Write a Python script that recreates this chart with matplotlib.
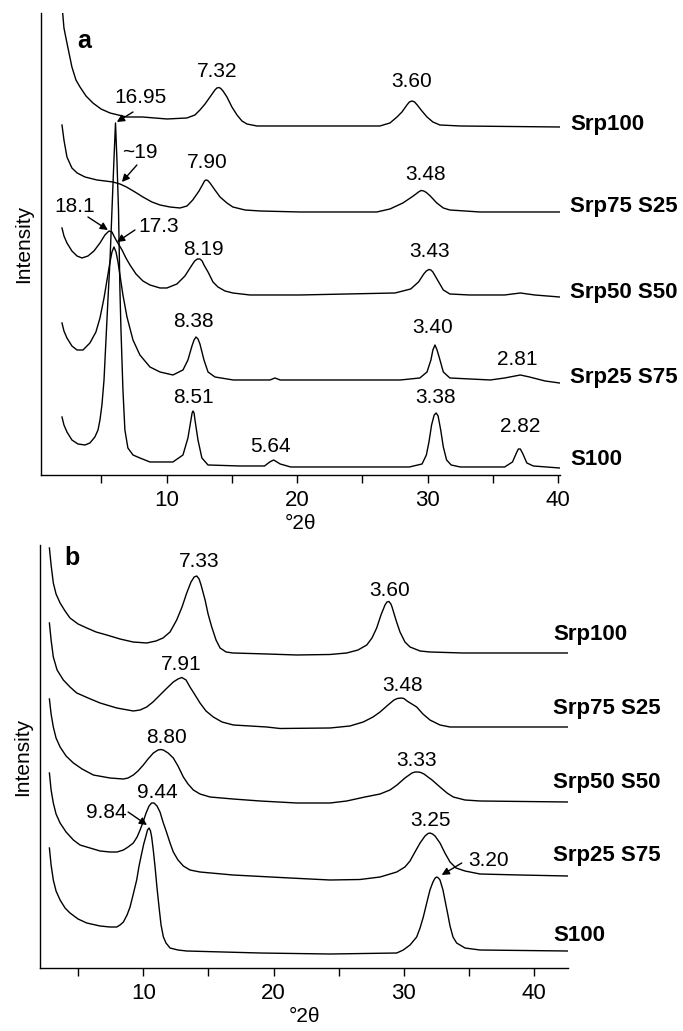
import matplotlib
matplotlib.use("Agg")
import matplotlib.pyplot as plt

plt.rcParams['font.family'] = ['Liberation Sans', 'DejaVu Sans']

# panel a traces: (2theta, intensity offset)
a_srp100 = [(1.98, 470), (2.13, 447), (2.36, 432), (2.74, 408), (3.05, 395), (3.36, 388),
            (3.82, 379), (4.35, 372), (4.97, 366), (5.66, 362), (6.92, 358), (8.15, 358),
            (10.02, 356), (11.55, 357), (12.17, 360), (12.55, 365), (12.94, 371), (13.32, 378),
            (13.70, 385), (13.85, 387), (14.0, 387.5), (14.15, 386.5), (14.32, 384), (14.62, 378),
            (15.0, 368), (15.39, 360), (15.77, 354), (16.15, 351), (16.92, 349), (17.69, 349),
            (26.34, 349), (27.11, 352), (27.65, 358), (28.03, 363), (28.41, 370), (28.6, 373),
            (28.8, 374), (29.0, 373), (29.2, 370), (29.56, 364), (29.95, 358), (30.4, 353),
            (30.94, 350), (32.5, 349), (40.1, 348)]
a_srp75_s25 = [(1.98, 350), (2.13, 335), (2.36, 318), (2.74, 307), (3.14, 302), (3.74, 298),
               (4.66, 295), (5.89, 293), (6.42, 291), (6.92, 288), (7.57, 283), (8.18, 278),
               (8.87, 273), (9.49, 270), (10.25, 268), (11.02, 267), (11.56, 269), (12.0, 275),
               (12.48, 284), (12.78, 291), (12.9, 294), (13.01, 295), (13.15, 294.5), (13.32, 292),
               (13.7, 285), (14.09, 278), (14.62, 272), (15.07, 268), (16.0, 265), (17.15, 264),
               (20.21, 263), (26.1, 263), (27.11, 266), (28.1, 272), (28.9, 279), (29.3, 283),
               (29.5, 284.5), (29.7, 284), (29.9, 282.5), (30.2, 279), (30.7, 272), (31.2, 267),
               (31.7, 265), (34.0, 263), (40.1, 263)]
a_srp50_s50 = [(1.98, 247), (2.13, 239), (2.36, 232), (2.74, 224), (3.13, 219), (3.51, 217),
               (3.97, 219), (4.43, 224), (4.89, 232), (5.27, 240), (5.58, 244), (5.81, 243),
               (5.96, 239), (6.12, 235), (6.58, 225), (6.88, 217), (7.19, 210), (7.65, 201),
               (8.18, 194), (8.72, 190), (9.49, 187), (10.02, 187), (10.79, 191), (11.4, 199),
               (11.94, 210), (12.15, 214), (12.35, 216), (12.55, 216), (12.72, 214), (12.86, 210),
               (13.17, 203), (13.55, 193), (13.93, 188), (14.47, 184), (15.07, 182), (16.38, 180),
               (20.2, 180), (27.5, 182), (28.7, 186), (29.3, 193), (29.7, 201), (29.9, 204),
               (30.1, 205.5), (30.25, 205), (30.4, 203), (30.8, 194), (31.2, 185), (31.7, 181),
               (33.2, 180), (35.9, 180), (37.1, 182), (38.2, 180), (40.1, 178)]
a_srp25_s75 = [(1.98, 152), (2.13, 144), (2.36, 137), (2.74, 129), (3.13, 125), (3.59, 125),
               (4.12, 132), (4.58, 143), (4.89, 157), (5.2, 177), (5.43, 195), (5.66, 213),
               (5.81, 223), (5.96, 228), (6.12, 223), (6.27, 213), (6.42, 200), (6.65, 180),
               (6.96, 158), (7.42, 135), (7.95, 120), (8.72, 108), (9.49, 103), (10.48, 100),
               (11.25, 105), (11.63, 115), (11.94, 129), (12.1, 135), (12.25, 138), (12.4, 136),
               (12.55, 131), (12.86, 115), (13.17, 103), (13.7, 98), (15.1, 95), (17.92, 95),
               (18.3, 97), (18.7, 95), (27.9, 95), (29.4, 97), (29.95, 103), (30.25, 115),
               (30.4, 125), (30.56, 130), (30.72, 125), (30.9, 117), (31.2, 103), (31.7, 97),
               (34.8, 95), (35.9, 97), (37.1, 100), (37.8, 98), (39.0, 94), (40.1, 92)]
a_s100 = [(1.98, 58), (2.13, 50), (2.36, 43), (2.74, 35), (3.2, 31), (3.74, 30), (4.12, 32),
          (4.5, 38), (4.74, 45), (4.89, 55), (5.04, 70), (5.2, 95), (5.35, 135), (5.5, 175),
          (5.66, 215), (5.81, 265), (5.96, 315), (6.08, 352), (6.19, 315), (6.31, 265),
          (6.42, 185), (6.5, 145), (6.65, 85), (6.8, 45), (7.03, 27), (7.42, 20), (7.95, 17),
          (8.72, 13), (10.48, 13), (11.25, 20), (11.63, 37), (11.86, 55), (11.95, 62),
          (12.02, 64), (12.1, 62), (12.17, 55), (12.4, 35), (12.7, 17), (13.17, 10), (15.6, 9),
          (17.5, 9), (17.9, 13), (18.2, 15), (18.7, 11), (19.5, 8), (28.6, 8), (29.57, 11),
          (29.9, 20), (30.1, 33), (30.3, 50), (30.5, 60), (30.65, 62), (30.8, 59), (31.0, 45),
          (31.2, 28), (31.45, 15), (31.8, 10), (32.5, 8), (35.9, 8), (36.5, 13), (36.8, 22),
          (36.95, 26), (37.1, 26), (37.3, 21), (37.6, 12), (38.1, 9), (40.1, 7)]

# panel b traces
b_srp100 = [(2.79, 420), (2.92, 403), (3.09, 385), (3.3, 374), (3.61, 365), (3.99, 357),
            (4.37, 350), (4.99, 344), (5.66, 340), (6.37, 336), (7.19, 333), (8.21, 329),
            (9.21, 326), (10.26, 325), (10.97, 327), (11.51, 330), (12.05, 336), (12.56, 348),
            (12.97, 361), (13.33, 375), (13.66, 386), (13.9, 391), (14.1, 392), (14.28, 389),
            (14.43, 383), (14.74, 368), (14.97, 354), (15.25, 341), (15.58, 328), (15.89, 320),
            (16.35, 316), (16.88, 315), (19.49, 314), (21.77, 313), (24.33, 313.5), (25.61, 315),
            (26.48, 318), (27.15, 323), (27.55, 330), (27.91, 340), (28.24, 353), (28.55, 363),
            (28.7, 366), (28.85, 366.5), (29.0, 364), (29.09, 361), (29.39, 348), (29.7, 336),
            (30.08, 326), (30.47, 321), (31.24, 317), (32.0, 316), (34.53, 315), (42.6, 315)]
b_srp75_s25 = [(2.79, 345), (2.92, 328), (3.09, 311), (3.38, 298), (3.86, 288), (4.37, 281),
               (4.89, 275), (5.76, 270), (6.68, 265), (7.96, 260), (9.23, 257), (9.75, 258),
               (10.26, 261), (10.74, 266), (11.28, 273), (11.82, 280), (12.3, 286), (12.66, 289),
               (12.95, 290.5), (13.28, 288), (13.58, 281), (13.97, 273), (14.35, 265),
               (14.81, 257), (15.37, 251), (16.04, 246), (16.91, 243), (19.47, 241),
               (20.49, 239.5), (24.33, 240), (25.86, 242), (26.88, 246), (27.63, 251),
               (28.17, 256), (28.78, 263), (29.24, 268), (29.5, 269.5), (29.78, 270),
               (30.0, 269.5), (30.24, 267), (30.98, 261), (31.46, 254), (32.0, 248), (32.77, 243),
               (33.54, 241), (35.84, 241), (42.6, 241)]
b_srp50_s50 = [(2.79, 269), (2.92, 254), (3.09, 241), (3.3, 230), (3.61, 221), (4.07, 212),
               (4.63, 205), (5.3, 199), (6.16, 193), (7.44, 190), (8.47, 189), (8.83, 190),
               (9.23, 193), (9.59, 197), (10.0, 203), (10.36, 209), (10.77, 215), (11.13, 218),
               (11.33, 218.5), (11.53, 218), (11.9, 215), (12.3, 210), (12.66, 202), (13.07, 191),
               (13.43, 184), (13.84, 178), (14.35, 174), (15.12, 171), (16.88, 169), (18.96, 167),
               (21.77, 165), (24.33, 165), (25.61, 167), (27.01, 171), (28.17, 174), (28.93, 178),
               (29.47, 183), (30.08, 190), (30.62, 195), (30.85, 196), (31.1, 196), (31.3, 195.5),
               (31.54, 194), (32.16, 188), (32.77, 181), (33.31, 175), (33.79, 171), (34.69, 168),
               (35.84, 167), (42.6, 166)]
b_srp25_s75 = [(2.79, 195), (2.92, 178), (3.09, 165), (3.3, 154), (3.61, 145), (4.07, 136),
               (4.63, 128), (5.14, 123), (5.91, 120), (6.68, 117), (7.44, 116), (7.98, 116),
               (8.47, 118), (8.83, 121), (9.23, 125), (9.52, 131), (9.75, 138), (9.98, 146),
               (10.21, 155), (10.44, 162), (10.63, 165), (10.82, 165), (11.05, 162), (11.28, 156),
               (11.51, 146), (11.8, 135), (12.05, 125), (12.3, 116), (12.66, 108), (13.07, 102),
               (13.58, 98), (14.35, 96), (16.88, 93), (21.26, 90), (24.33, 88), (26.63, 88.5),
               (28.17, 91), (29.45, 96), (30.08, 101), (30.47, 107), (30.85, 116), (31.24, 125),
               (31.62, 132), (31.85, 134.5), (32.0, 135), (32.2, 134), (32.39, 132), (32.77, 125),
               (33.15, 115), (33.54, 106), (34.0, 100), (34.69, 97), (35.84, 94), (38.9, 93),
               (42.6, 92)]
b_s100 = [(2.79, 120), (2.92, 103), (3.09, 88), (3.3, 77), (3.61, 68), (3.99, 60), (4.37, 55),
          (4.99, 49), (5.66, 45), (6.68, 42), (7.44, 41), (7.96, 41), (8.21, 43), (8.47, 46),
          (8.75, 53), (8.98, 61), (9.21, 73), (9.49, 88), (9.67, 102), (9.88, 115), (10.03, 124),
          (10.18, 131), (10.32, 138), (10.44, 140), (10.55, 137), (10.64, 131), (10.78, 116),
          (10.9, 101), (11.05, 80), (11.23, 58), (11.36, 43), (11.54, 31), (11.74, 25),
          (12.05, 20), (12.66, 18), (13.33, 17), (18.96, 15), (24.33, 14), (29.45, 15),
          (29.95, 18), (30.47, 23), (30.98, 31), (31.24, 40), (31.49, 51), (31.77, 66),
          (32.0, 78), (32.23, 86), (32.4, 90), (32.52, 91), (32.65, 90), (32.77, 88), (33.0, 78),
          (33.15, 68), (33.38, 53), (33.54, 42), (33.77, 31), (34.05, 25), (34.69, 20),
          (35.84, 18), (42.6, 17)]

sample_names = ["Srp100", "Srp75 S25", "Srp50 S50", "Srp25 S75", "S100"]
a_traces = [a_srp100, a_srp75_s25, a_srp50_s50, a_srp25_s75, a_s100]
b_traces = [b_srp100, b_srp75_s25, b_srp50_s50, b_srp25_s75, b_s100]

# d-spacing labels: (text, x, y)
a_peak_labels = [("7.32", 13.85, 403), ("7.90", 13.08, 312), ("8.19", 12.79, 225),
                 ("8.38", 12.02, 153), ("8.51", 12.02, 77), ("5.64", 17.99, 28),
                 ("3.60", 28.8, 393), ("3.48", 29.87, 300), ("3.43", 30.18, 223),
                 ("3.40", 30.4, 147), ("2.81", 36.9, 115), ("3.38", 30.64, 77),
                 ("2.82", 37.07, 48)]
# arrowed labels: (text, text x, text y, tip x, tip y, tail x, tail y)
a_arrow_labels = [("16.95", 8.03, 377, 6.18, 353, 7.42, 363),
                  ("~19", 7.97, 322, 6.57, 293, 7.72, 310),
                  ("18.1", 2.97, 268, 5.5, 245, 3.97, 258),
                  ("17.3", 9.36, 248, 6.19, 233, 7.57, 245)]
a_name_y = [350, 268, 182, 97, 15]

b_peak_labels = [("7.33", 14.27, 406), ("7.91", 12.89, 303), ("8.80", 11.74, 230),
                 ("9.44", 11.05, 175), ("3.60", 28.93, 377), ("3.48", 29.93, 282),
                 ("3.33", 31.0, 207), ("3.25", 32.08, 147)]
b_arrow_labels = [("9.84", 7.13, 155, 10.28, 143, 8.83, 156),
                  ("3.20", 36.53, 108, 32.9, 93, 34.44, 105)]
b_name_y = [333, 259, 185, 113, 33]


def draw_panel(ax, traces, peak_labels, arrow_labels, name_x, name_y, letter, letter_xy,
               xlim, ylim):
    for tr in traces:
        x, y = zip(*tr)
        ax.plot(x, y, color='black', lw=1.0, solid_joinstyle='round')
    for txt, x, y in peak_labels:
        ax.text(x, y, txt, fontsize=15, ha='center', va='center')
    for txt, tx, ty, hx, hy, sx, sy in arrow_labels:
        ax.text(tx, ty, txt, fontsize=15, ha='center', va='center')
        ax.annotate("", xy=(hx, hy), xytext=(sx, sy),
                    arrowprops=dict(arrowstyle='-|>', color='black', lw=1.0,
                                    mutation_scale=11, shrinkA=0, shrinkB=0))
    for name, y in zip(sample_names, name_y):
        ax.text(name_x, y, name, fontsize=16, fontweight='bold', ha='left', va='center',
                clip_on=False)
    ax.text(letter_xy[0], letter_xy[1], letter, fontsize=18, fontweight='bold',
            ha='center', va='center')
    ax.set_xlim(*xlim)
    ax.set_ylim(*ylim)
    ax.set_xticks([5, 10, 15, 20, 25, 30, 35, 40])
    ax.set_xticklabels(['', '10', '', '20', '', '30', '', '40'])
    ax.tick_params(axis='x', direction='out', length=6, width=1, labelsize=16, pad=5)
    ax.set_yticks([])
    for s in ['top', 'right']:
        ax.spines[s].set_visible(False)
    ax.spines['left'].set_linewidth(1.0)
    ax.spines['bottom'].set_linewidth(1.0)
    ax.set_xlabel('°2θ', fontsize=15, labelpad=2)
    ax.set_ylabel('Intensity', fontsize=15, labelpad=6)


fig = plt.figure(figsize=(6.83, 10.31), dpi=100)
ax_a = fig.add_axes([0.0600, 0.5393, 0.7599, 0.4481])
ax_b = fig.add_axes([0.0586, 0.0611, 0.7731, 0.4103])

draw_panel(ax_a, a_traces, a_peak_labels, a_arrow_labels, 40.9, a_name_y, 'a', (3.66, 434),
           (0.37, 40.14), (0, 462))
draw_panel(ax_b, b_traces, b_peak_labels, b_arrow_labels, 41.45, b_name_y, 'b', (4.53, 410),
           (2.07, 42.6), (0, 423))

fig.savefig('out.png', dpi=100)
